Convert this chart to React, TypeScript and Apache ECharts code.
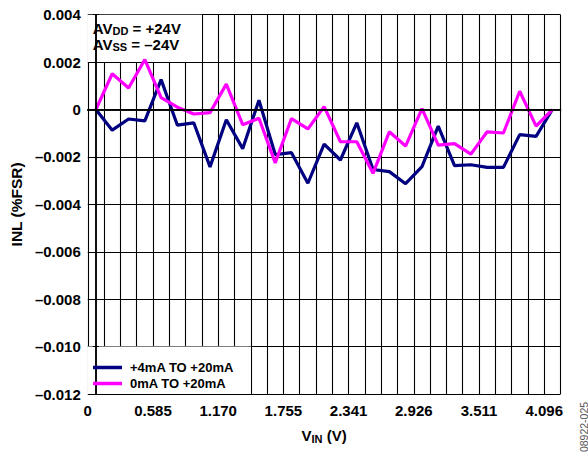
import React, { useEffect, useRef } from "react";
import * as echarts from "echarts";

// V_IN (V) of each measured code step
const vin = [
  0, 0.146, 0.293, 0.439, 0.585, 0.731, 0.878, 1.024, 1.17, 1.317, 1.463, 1.609, 1.755, 1.902, 2.048,
  2.194, 2.341, 2.487, 2.633, 2.779, 2.926, 3.072, 3.218, 3.365, 3.511, 3.657, 3.803, 3.95, 4.096,
];
// INL (%FSR), +4mA TO +20mA range
const inl4to20 = [
  0, -0.00087, -0.0004, -0.00048, 0.00126, -0.00066, -0.00056, -0.00242, -0.00043, -0.00165, 0.00039,
  -0.0019, -0.00182, -0.00311, -0.00146, -0.00213, -0.00056, -0.00253, -0.00262, -0.00313, -0.00241,
  -0.0007, -0.00237, -0.00233, -0.00244, -0.00244, -0.00106, -0.00113, 0,
];
// INL (%FSR), 0mA TO +20mA range
const inl0to20 = [
  0, 0.00151, 0.00091, 0.00211, 0.0005, 0.0001, -0.00019, -0.00013, 0.00107, -0.00064, -0.00037,
  -0.00225, -0.00038, -0.00082, 0.00012, -0.00136, -0.00136, -0.00269, -0.00094, -0.00154, 0.00004,
  -0.0015, -0.00144, -0.00188, -0.00094, -0.00099, 0.00077, -0.0007, 0,
];
const seriesNames = ["+4mA TO +20mA", "0mA TO +20mA"];
const xTickLabels = ["0", "0.585", "1.170", "1.755", "2.341", "2.926", "3.511", "4.096"];
const yTickValues = [0.004, 0.002, 0, -0.002, -0.004, -0.006, -0.008, -0.01, -0.012];
const yTickLabels = ["0.004", "0.002", "0", "\u20130.002", "\u20130.004", "\u20130.006", "\u20130.008", "\u20130.010", "\u20130.012"];

const FONT = "Liberation Sans";
const xStep = 4.096 / 28;
const xMin = -xStep / 2;
const xMax = xMin + 29 * xStep;
const yMin = -0.012;
const yMax = 0.004;

export default function App() {
  const ref = useRef<HTMLDivElement>(null);
  useEffect(() => {
    if (!ref.current) return;
    const chart = echarts.init(ref.current, undefined, { renderer: "svg" });
    const xLabel = (v: number) => {
      const k = Math.round((v - xMin) / xStep);
      return k % 4 === 0 && xTickLabels[k / 4] !== undefined ? xTickLabels[k / 4] : "";
    };
    const yLabel = (v: number) => {
      const i = yTickValues.findIndex((t) => Math.abs(t - v) < 1e-9);
      return i >= 0 ? yTickLabels[i] : "";
    };
    const black = "#000";
    const baseX = { type: "value", min: xMin, max: xMax, interval: xStep };
    const baseY = { type: "value", min: yMin, max: yMax, interval: 0.002 };
    const option: any = {
      animation: false,
      backgroundColor: "#fff",
      textStyle: { fontFamily: FONT },
      grid: { left: 84, right: 27.5, top: 14.7, bottom: 61 },
      xAxis: [
        {
          ...baseX,
          position: "bottom",
          z: 5,
          axisLine: { show: true, lineStyle: { color: black, width: 1.5 } },
          axisTick: { show: true, inside: true, length: 3, lineStyle: { color: black } },
          splitLine: { show: false },
          axisLabel: {
            formatter: xLabel,
            showMinLabel: true,
            showMaxLabel: true,
            color: black,
            fontFamily: FONT,
            fontWeight: "bold",
            fontSize: 15,
            margin: 9,
          },
          name: "{v|V}{s|IN}{v| (V)}",
          nameLocation: "middle",
          nameGap: 33,
          nameTextStyle: {
            rich: {
              v: { fontFamily: FONT, fontWeight: "bold", fontSize: 15, color: black, lineHeight: 17 },
              s: { fontFamily: FONT, fontWeight: "bold", fontSize: 11, color: black, lineHeight: 9, verticalAlign: "bottom" },
            },
          },
        },
        {
          ...baseX,
          position: "top",
          z: 5,
          axisLine: { show: true, lineStyle: { color: black, width: 1.5 } },
          axisTick: { show: true, inside: true, length: 3, lineStyle: { color: black } },
          splitLine: { show: false },
          axisLabel: { show: false },
        },
        {
          ...baseX,
          position: "top",
          z: 0,
          axisLine: { show: false },
          axisTick: { show: false },
          axisLabel: { show: false },
          splitLine: { show: true, lineStyle: { color: black, width: 1.1 } },
        },
      ],
      yAxis: [
        {
          ...baseY,
          position: "left",
          z: 5,
          axisLine: { show: true, lineStyle: { color: black, width: 1.5 } },
          axisTick: { show: true, inside: true, length: 3, lineStyle: { color: black } },
          splitLine: { show: false },
          axisLabel: { formatter: yLabel, color: black, fontFamily: FONT, fontWeight: "bold", fontSize: 15, margin: 7 },
          name: "INL (%FSR)",
          nameLocation: "middle",
          nameGap: 59,
          nameTextStyle: { fontFamily: FONT, fontWeight: "bold", fontSize: 15.5, color: black },
        },
        {
          ...baseY,
          position: "right",
          z: 5,
          axisLine: { show: true, lineStyle: { color: black, width: 1.5 } },
          axisTick: { show: true, inside: true, length: 3, lineStyle: { color: black } },
          splitLine: { show: false },
          axisLabel: { show: false },
        },
        {
          ...baseY,
          position: "right",
          z: 0,
          axisLine: { show: false },
          axisTick: { show: false },
          axisLabel: { show: false },
          splitLine: { show: true, lineStyle: { color: black, width: 1.1 } },
        },
      ],
      legend: {
        data: seriesNames.map((name) => ({ name, icon: "rect" })),
        orient: "vertical",
        left: 88,
        top: 356,
        itemWidth: 29,
        itemHeight: 3.5,
        itemGap: 3,
        z: 6,
        textStyle: { fontFamily: FONT, fontWeight: "bold", fontSize: 13, color: black, padding: [0, 0, 0, 3] },
      },
      series: [
        {
          name: seriesNames[0],
          type: "line",
          xAxisIndex: 0,
          yAxisIndex: 0,
          z: 3,
          symbol: "none",
          data: vin.map((x, i) => [x, inl4to20[i]]),
          lineStyle: { color: "#000080", width: 3.2 },
          itemStyle: { color: "#000080" },
        },
        {
          name: seriesNames[1],
          type: "line",
          xAxisIndex: 0,
          yAxisIndex: 0,
          z: 3,
          symbol: "none",
          data: vin.map((x, i) => [x, inl0to20[i]]),
          lineStyle: { color: "#ff00ff", width: 3.2 },
          itemStyle: { color: "#ff00ff" },
        },
      ],
    };
    chart.setOption(option);

    const px = (x: number, y: number) => chart.convertToPixel({ xAxisIndex: 0, yAxisIndex: 0 }, [x, y]) as number[];
    const a0 = px(xMin, 0.004);
    const a1 = px(xMin + 7 * xStep, 0.002);
    const l0 = px(xMin, -0.01);
    const l1 = px(xMin + 10 * xStep, -0.012);
    const subRich = {
      m: { fontFamily: FONT, fontWeight: "bold", fontSize: 15, fill: black, lineHeight: 16 },
      s: { fontFamily: FONT, fontWeight: "bold", fontSize: 11, fill: black, lineHeight: 9, verticalAlign: "bottom" },
    };
    chart.setOption({
      graphic: [
        { type: "rect", z: 1, shape: { x: a0[0], y: a0[1], width: a1[0] - a0[0], height: a1[1] - a0[1] }, style: { fill: "#fff" } },
        { type: "rect", z: 1, shape: { x: l0[0], y: l0[1], width: l1[0] - l0[0], height: l1[1] - l0[1] }, style: { fill: "#fff" } },
        {
          type: "text",
          z: 6,
          x: a0[0] + 5,
          y: a0[1] + 6,
          style: {
            text: "{m|AV}{s|DD}{m| = +24V}\n{m|AV}{s|SS}{m| = \u201324V}",
            rich: subRich,
            fill: black,
            align: "left",
            verticalAlign: "top",
          },
        },
        {
          type: "text",
          z: 6,
          x: 583.5,
          y: 427,
          rotation: Math.PI / 2,
          style: { text: "08922-025", fontFamily: FONT, fontSize: 10.5, fill: "#555", align: "center", verticalAlign: "middle" },
        },
      ],
    });
    return () => chart.dispose();
  }, []);
  return <div ref={ref} style={{ position: "fixed", left: 0, top: 0, width: 588, height: 455, background: "#fff" }} />;
}
